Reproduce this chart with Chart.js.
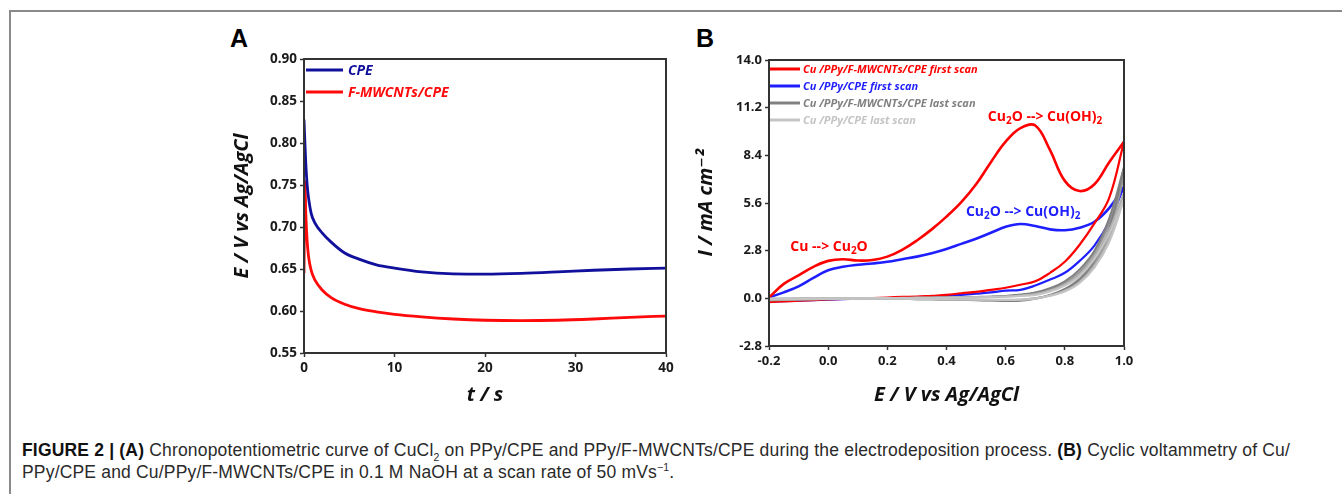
<!DOCTYPE html>
<html>
<head>
<meta charset="utf-8">
<script src="https://cdn.jsdelivr.net/npm/chart.js@4.4.0/dist/chart.umd.min.js"></script>
<style>
  body { margin: 0; background: #fff; }
  #page { position: relative; width: 1342px; height: 494px; overflow: hidden; background: #fff; }
  #frameTop { position: absolute; left: 9px; top: 10px; width: 1333px; border-top: 2px solid #8a8a8a; }
  #frameLeft { position: absolute; left: 9px; top: 10px; height: 484px; border-left: 2px solid #8a8a8a; }
  .panel { position: absolute; font-family: "Liberation Sans", Arial, sans-serif; font-weight: bold; font-size: 25px; color: #000; line-height: 1; }
  canvas { position: absolute; }
  #caption { position: absolute; left: 22px; top: 439px; font-family: "Liberation Sans Narrow", "Liberation Sans", sans-serif;
             font-size: 17.5px; line-height: 22px; color: #2a2a2a; white-space: nowrap; }
  #caption div { display: inline-block; }
  #caption b { color: #111; }
  #caption sub, #caption sup { font-size: 10.5px; line-height: 0; }
</style>
</head>
<body>
<div id="page">
  <div id="frameTop"></div>
  <div id="frameLeft"></div>
  <div class="panel" style="left:230px; top:26px;">A</div>
  <div class="panel" style="left:696px; top:26px;">B</div>
  <canvas id="chartA" width="460" height="380" style="left:220px; top:30px;"></canvas>
  <canvas id="chartB" width="460" height="380" style="left:690px; top:30px;"></canvas>
  <div id="caption"><div id="cap1"><b>FIGURE 2 | (A)</b> Chronopotentiometric curve of CuCl<sub>2</sub> on PPy/CPE and PPy/F-MWCNTs/CPE during the electrodeposition process. <b>(B)</b> Cyclic voltammetry of Cu/</div><br><div id="cap2">PPy/CPE and Cu/PPy/F-MWCNTs/CPE in 0.1 M NaOH at a scan rate of 50 mVs<sup>&minus;1</sup>.</div></div>
</div>
<script>
// ---- panel A: chronopotentiometry, E (V vs Ag/AgCl) vs t (s)
const timeA = [0, 0.1, 0.2, 0.35, 0.5, 0.8, 1.2, 2, 3, 4.5, 6, 8, 10, 13, 16.5, 20, 24, 28, 32, 36, 40];
const cpeE = [0.828, 0.800, 0.775, 0.750, 0.735, 0.716, 0.705, 0.693, 0.682, 0.669, 0.662, 0.655, 0.651,
              0.6465, 0.6443, 0.644, 0.6448, 0.6465, 0.6485, 0.650, 0.651];
const fmwcntE = [0.645, 0.755, 0.715, 0.683, 0.665, 0.648, 0.637, 0.625, 0.616, 0.608, 0.603, 0.599, 0.596,
                 0.593, 0.5905, 0.589, 0.5885, 0.589, 0.5905, 0.5925, 0.594];
const xTicksA = [0, 10, 20, 30, 40];
const yTicksA = [0.55, 0.60, 0.65, 0.70, 0.75, 0.80, 0.85, 0.90];
const legendA = ["CPE", "F-MWCNTs/CPE"];

// ---- panel B: cyclic voltammetry, I (mA cm-2) vs E (V vs Ag/AgCl)
// every half-scan is read on the same potential grid
const potB = [-0.2, -0.15, -0.1, -0.05, 0, 0.05, 0.1, 0.15, 0.2, 0.25, 0.3, 0.35, 0.4, 0.45, 0.5,
              0.55, 0.6, 0.65, 0.7, 0.75, 0.8, 0.85, 0.9, 0.95, 1.0];
const redFwd = [0.05, 0.85, 1.35, 1.85, 2.2, 2.3, 2.22, 2.25, 2.45, 2.85, 3.4, 4.05, 4.8, 5.65, 6.7,
                8.0, 9.2, 10.0, 10.15, 8.7, 6.9, 6.3, 6.7, 8.0, 9.2];
const redRev = [-0.22, -0.18, -0.14, -0.1, -0.06, -0.03, 0.0, 0.02, 0.05, 0.08, 0.1, 0.15, 0.2, 0.3, 0.38,
                0.5, 0.62, 0.8, 1.0, 1.5, 2.15, 3.15, 4.4, 5.9, 9.2];
const blueFwd = [0.05, 0.35, 0.7, 1.2, 1.65, 1.85, 1.97, 2.05, 2.15, 2.3, 2.45, 2.65, 2.9, 3.2, 3.5,
                 3.85, 4.2, 4.37, 4.25, 4.05, 4.0, 4.15, 4.5, 5.3, 6.56];
const blueRev = [-0.2, -0.16, -0.13, -0.1, -0.08, -0.05, -0.02, 0.0, 0.02, 0.04, 0.07, 0.1, 0.15, 0.2, 0.27,
                 0.35, 0.45, 0.5, 0.75, 1.1, 1.5, 2.2, 3.1, 4.5, 6.56];
const darkFwd = [-0.12, -0.1, -0.08, -0.06, -0.05, -0.04, -0.03, -0.03, -0.03, -0.04, -0.05, -0.06, -0.07, -0.09, -0.11,
                 -0.13, -0.15, -0.14, -0.02, 0.2, 0.55, 1.15, 2.2, 4.1, 7.7];
const darkRev = [-0.05, -0.04, -0.03, -0.02, -0.01, 0.0, 0.0, 0.01, 0.01, 0.02, 0.03, 0.04, 0.05, 0.06, 0.08,
                 0.1, 0.14, 0.22, 0.35, 0.6, 1.0, 1.7, 2.8, 4.7, 7.7];
const midFwd = [-0.1, -0.08, -0.06, -0.05, -0.04, -0.03, -0.03, -0.03, -0.03, -0.04, -0.05, -0.06, -0.07, -0.08, -0.1,
                -0.11, -0.12, -0.1, 0.0, 0.18, 0.5, 1.05, 2.0, 3.8, 7.2];
const midRev = [-0.04, -0.03, -0.02, -0.01, 0.0, 0.0, 0.01, 0.01, 0.02, 0.02, 0.03, 0.04, 0.05, 0.06, 0.07,
                0.09, 0.13, 0.2, 0.32, 0.55, 0.9, 1.55, 2.6, 4.4, 7.2];
const lightFwd = [-0.08, -0.07, -0.06, -0.05, -0.04, -0.03, -0.03, -0.03, -0.03, -0.03, -0.04, -0.05, -0.06, -0.07, -0.08,
                  -0.09, -0.1, -0.08, -0.02, 0.15, 0.4, 0.9, 1.8, 3.3, 5.8];
const lightRev = [-0.03, -0.02, -0.01, 0.0, 0.0, 0.01, 0.01, 0.01, 0.02, 0.02, 0.03, 0.03, 0.04, 0.05, 0.06,
                  0.08, 0.1, 0.14, 0.2, 0.4, 0.75, 1.3, 2.3, 3.8, 5.8];
const paleFwd = [-0.06, -0.05, -0.05, -0.04, -0.03, -0.03, -0.02, -0.02, -0.02, -0.03, -0.03, -0.04, -0.05, -0.06, -0.07,
                 -0.08, -0.09, -0.07, 0.0, 0.17, 0.45, 0.95, 1.9, 3.5, 6.2];
const paleRev = [-0.02, -0.01, 0.0, 0.0, 0.01, 0.01, 0.01, 0.02, 0.02, 0.03, 0.03, 0.04, 0.05, 0.06, 0.07,
                 0.08, 0.11, 0.16, 0.25, 0.45, 0.8, 1.4, 2.45, 4.0, 6.2];
const xTicksB = [-0.2, 0.0, 0.2, 0.4, 0.6, 0.8, 1.0];
const yTicksB = [-2.8, 0.0, 2.8, 5.6, 8.4, 11.2, 14.0];
const legendB = ["Cu /PPy/F-MWCNTs/CPE first scan", "Cu /PPy/CPE first scan",
                 "Cu /PPy/F-MWCNTs/CPE last scan", "Cu /PPy/CPE last scan"];

const FONT = '"Open Sans", "DejaVu Sans", sans-serif';
const AXIS = '#333';

const framePlugin = {
  id: 'frame',
  afterDatasetsDraw(chart) {
    const { ctx, chartArea: a } = chart;
    ctx.save();
    ctx.strokeStyle = AXIS;
    ctx.lineWidth = 2;
    ctx.strokeRect(a.left, a.top, a.right - a.left, a.bottom - a.top);
    ctx.restore();
  }
};

const lineLegend = {
  id: 'lineLegend',
  afterDraw(chart, args, opts) {
    const { ctx, chartArea: a } = chart;
    ctx.save();
    ctx.font = opts.font;
    ctx.textBaseline = 'middle';
    opts.labels.forEach((lab, i) => {
      const y = a.top + opts.top + i * opts.gap;
      ctx.strokeStyle = opts.colors[i];
      ctx.lineWidth = opts.lineWidth;
      ctx.beginPath();
      ctx.moveTo(a.left + opts.x0, y);
      ctx.lineTo(a.left + opts.x1, y);
      ctx.stroke();
      ctx.fillStyle = opts.colors[i];
      ctx.fillText(lab, a.left + opts.textX, y + 1);
    });
    ctx.restore();
  }
};

function drawRich(ctx, parts, cx, cy, size) {
  const big = `bold ${size}px ${FONT}`;
  const small = `bold ${Math.round(size * 0.72)}px ${FONT}`;
  let w = 0;
  parts.forEach(p => { ctx.font = p.sub ? small : big; w += ctx.measureText(p.t).width; });
  let x = cx - w / 2;
  parts.forEach(p => {
    ctx.font = p.sub ? small : big;
    ctx.fillText(p.t, x, cy + (p.sub ? size * 0.3 : 0));
    x += ctx.measureText(p.t).width;
  });
}

const notes = {
  id: 'notes',
  afterDatasetsDraw(chart, args, opts) {
    const { ctx, scales } = chart;
    ctx.save();
    ctx.textBaseline = 'middle';
    opts.items.forEach(it => {
      ctx.fillStyle = it.color;
      drawRich(ctx, it.parts, scales.x.getPixelForValue(it.x), scales.y.getPixelForValue(it.y), it.size);
    });
    ctx.restore();
  }
};

function axisCommon(ticks, fmt, fit, size) {
  return {
    type: 'linear',
    min: ticks[0],
    max: ticks[ticks.length - 1],
    afterBuildTicks: s => { s.ticks = ticks.map(v => ({ value: v })); },
    afterFit: fit,
    ticks: {
      color: '#1a1a1a',
      font: { family: FONT, weight: 'bold', size: size },
      padding: 3,
      callback: v => fmt(v)
    },
    grid: { display: true, drawOnChartArea: false, drawTicks: true, tickLength: 4, color: AXIS, tickWidth: 1.5 },
    border: { display: true, color: AXIS, width: 2 }
  };
}

function titleOpt(text, padding) {
  return {
    display: true, text: text, color: '#111', padding: padding,
    font: { family: FONT, size: 20, weight: 'bold', style: 'italic' }
  };
}

function pairs(xs, ys) {
  return xs.map((x, i) => ({ x: x, y: ys[i] }));
}

// ---------- chart A
const scaleXA = axisCommon(xTicksA, v => String(v), s => { s.height = 57; }, 13.5);
scaleXA.title = titleOpt('t / s', { top: 0, bottom: 3 });
const scaleYA = axisCommon(yTicksA, v => v.toFixed(2), s => { s.width = 84; }, 13.5);
scaleYA.title = titleOpt('E / V vs Ag/AgCl', { top: 10, bottom: 0 });

new Chart(document.getElementById('chartA'), {
  type: 'line',
  data: {
    datasets: [
      { data: pairs(timeA, cpeE), borderColor: '#10109c', borderWidth: 2.8, pointRadius: 0, cubicInterpolationMode: 'monotone' },
      { data: pairs(timeA, fmwcntE), borderColor: '#ff0a0a', borderWidth: 2.8, pointRadius: 0, cubicInterpolationMode: 'monotone' }
    ]
  },
  options: {
    responsive: false,
    animation: false,
    layout: { padding: { left: 0, right: 14, top: 29, bottom: 0 } },
    plugins: {
      legend: { display: false },
      tooltip: { enabled: false },
      lineLegend: {
        labels: legendA, colors: ['#10109c', '#ff0a0a'],
        font: `italic bold 14px ${FONT}`, top: 11, gap: 22, x0: 2, x1: 39, textX: 44, lineWidth: 3
      }
    },
    scales: { x: scaleXA, y: scaleYA }
  },
  plugins: [framePlugin, lineLegend]
});

// ---------- chart B
const scaleXB = axisCommon(xTicksB, v => v.toFixed(1), s => { s.height = 64; }, 13);
scaleXB.title = titleOpt('E / V vs Ag/AgCl', { top: 0, bottom: 3 });
const scaleYB = axisCommon(yTicksB, v => (Math.abs(v) < 1e-9 ? 0 : v).toFixed(1), s => { s.width = 79; }, 13);
scaleYB.title = titleOpt('I / mA cm\u207B\u00B2', { top: 4, bottom: 0 });

const colB = { red: '#ff0000', blue: '#1e1eff', dark: '#808080', mid: '#999999', light: '#c4c4c4', pale: '#b0b0b0' };
function half(ys, color, width) {
  return { data: pairs(potB, ys), borderColor: color, borderWidth: width, pointRadius: 0, tension: 0.4 };
}

new Chart(document.getElementById('chartB'), {
  type: 'line',
  data: {
    datasets: [
      half(lightFwd, colB.light, 2), half(lightRev, colB.light, 2),
      half(paleFwd, colB.pale, 2), half(paleRev, colB.pale, 2),
      half(darkFwd, colB.dark, 2), half(darkRev, colB.dark, 2),
      half(midFwd, colB.mid, 2), half(midRev, colB.mid, 2),
      half(redFwd, colB.red, 2.6), half(redRev, colB.red, 2.2),
      half(blueFwd, colB.blue, 2.6), half(blueRev, colB.blue, 2.2)
    ]
  },
  options: {
    responsive: false,
    animation: false,
    layout: { padding: { left: 0, right: 26, top: 30, bottom: 0 } },
    plugins: {
      legend: { display: false },
      tooltip: { enabled: false },
      lineLegend: {
        labels: legendB, colors: [colB.red, colB.blue, colB.dark, colB.light],
        font: `italic bold 11px ${FONT}`, top: 9, gap: 17, x0: 1, x1: 31, textX: 34, lineWidth: 3
      },
      notes: {
        items: [
          { x: 0.733, y: 10.68, color: colB.red, size: 14,
            parts: [{ t: 'Cu' }, { t: '2', sub: true }, { t: 'O --> Cu(OH)' }, { t: '2', sub: true }] },
          { x: 0.659, y: 5.09, color: colB.blue, size: 14,
            parts: [{ t: 'Cu' }, { t: '2', sub: true }, { t: 'O --> Cu(OH)' }, { t: '2', sub: true }] },
          { x: 0.003, y: 3.03, color: colB.red, size: 14,
            parts: [{ t: 'Cu --> Cu' }, { t: '2', sub: true }, { t: 'O' }] }
        ]
      }
    },
    scales: { x: scaleXB, y: scaleYB }
  },
  plugins: [framePlugin, lineLegend, notes]
});

// stretch the caption so its first line spans the same width as in the figure
(function fitCaption() {
  const c1 = document.getElementById('cap1');
  const c2 = document.getElementById('cap2');
  const target = 1268;
  const w = c1.getBoundingClientRect().width;
  const n = c1.textContent.length;
  const ls = (target - w) / n;
  c1.style.letterSpacing = ls + 'px';
  c2.style.letterSpacing = ls + 'px';
})();
</script>
</body>
</html>
